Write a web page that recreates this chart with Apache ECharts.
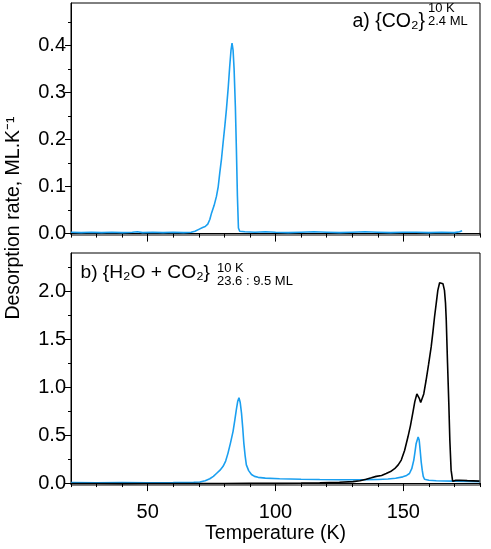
<html>
<head>
    <meta charset="utf-8">
    <script src="https://cdn.jsdelivr.net/npm/echarts@6/dist/echarts.min.js"></script>
</head>
<body>
    <style>
        html,
        body {
            width: 100%;
            height: 100%;
            margin: 0;
            background: #fff;
        }
    </style>
    <div id="main" style="width: 491px;height:549px;"></div>
    <script>
        // panel a) CO2 alone
        var tempA = [20, 24, 28, 32, 36, 40, 44, 46, 48, 52, 56, 60, 64, 67, 68.5, 70, 71.5, 72.5, 73.5, 74.3,
            75, 76, 76.9, 77.6, 78.2, 78.9, 79.5, 80.2, 80.8, 81.5, 82.1, 82.6, 83.0, 83.4, 83.8, 84.3, 84.7,
            85.1, 85.5, 86, 88, 92, 96, 100, 105, 110, 115, 120, 125, 130, 135, 140, 145, 150, 155, 160, 165,
            170, 172, 173];
        var rateA = [0.003, 0.002, 0.003, 0.002, 0.003, 0.002, 0.003, 0.004, 0.002, 0.003, 0.002, 0.003, 0.002,
            0.003, 0.005, 0.009, 0.013, 0.015, 0.02, 0.03, 0.044, 0.06, 0.079, 0.1, 0.129, 0.16, 0.193, 0.23,
            0.264, 0.31, 0.356, 0.39, 0.405, 0.39, 0.35, 0.27, 0.18, 0.08, 0.012, 0.005, 0.004, 0.003, 0.004,
            0.003, 0.002, 0.003, 0.004, 0.003, 0.002, 0.003, 0.004, 0.003, 0.002, 0.003, 0.003, 0.002, 0.003,
            0.002, 0.004, 0.006];

        // panel b) H2O + CO2, CO2 trace (blue)
        var tempB = [20, 30, 40, 50, 60, 65, 68, 70.4, 72.5, 74.3, 75.7, 76.9, 78.3, 79.5, 80.5, 81.4, 82.4,
            83.4, 84.1, 84.7, 85.2, 85.7, 86.2, 86.7, 87.2, 87.6, 88.1, 88.6, 89.5, 90.6, 91.8, 93.2, 96, 101.6,
            110, 117.3, 125, 130, 135, 140, 144, 147, 149.8, 151.3, 152.4, 153.3, 154.1, 154.6, 155.0, 155.8,
            156.2, 156.6, 157.0, 157.4, 157.8, 158.3, 160, 162.9, 166, 170, 175, 179.8];
        var rateB = [0.005, 0.004, 0.005, 0.004, 0.005, 0.006, 0.008, 0.012, 0.025, 0.045, 0.07, 0.10, 0.135,
            0.175, 0.23, 0.31, 0.42, 0.54, 0.66, 0.77, 0.85, 0.89, 0.84, 0.73, 0.57, 0.42, 0.29, 0.19, 0.13,
            0.09, 0.07, 0.06, 0.052, 0.045, 0.04, 0.037, 0.035, 0.035, 0.036, 0.038, 0.042, 0.05, 0.065, 0.08,
            0.10, 0.15, 0.24, 0.33, 0.41, 0.48, 0.45, 0.34, 0.22, 0.135, 0.07, 0.04, 0.03, 0.025, 0.022, 0.02,
            0.018, 0.015];

        // panel b) H2O trace (black)
        var tempW = [20, 30, 40, 50, 60, 70, 80, 90, 100, 110, 117.3, 125, 130.3, 133, 135.5, 137.5, 139.4,
            141.5, 143.3, 145, 146.6, 148, 149.2, 150.5, 151.8, 152.8, 153.7, 154.5, 155.3, 155.8, 156.3, 156.8,
            157.2, 158, 158.9, 159.9, 160.9, 161.6, 162.2, 162.9, 163.5, 164.2, 164.8, 165.5, 166.1, 166.5,
            166.8, 167.3, 167.8, 168.2, 168.7, 169.3, 170.5, 172, 175, 179.8];
        var rateW = [-0.005, -0.004, -0.006, -0.005, -0.004, -0.005, -0.004, -0.003, -0.003, 0.0, 0.003, 0.008,
            0.015, 0.025, 0.04, 0.055, 0.07, 0.08, 0.10, 0.12, 0.15, 0.19, 0.24, 0.34, 0.48, 0.60, 0.73, 0.85,
            0.93, 0.92, 0.88, 0.84, 0.84, 0.93, 1.07, 1.24, 1.42, 1.58, 1.73, 1.88, 2.01, 2.09, 2.11, 2.08, 2.01,
            1.88, 1.70, 1.25, 0.83, 0.45, 0.135, 0.02, 0.028, 0.03, 0.026, 0.02];

        var xMajor = [50, 100, 150];
        var yMajorA = [0, 0.1, 0.2, 0.3, 0.4];
        var yMinorA = [0.05, 0.15, 0.25, 0.35, 0.45];
        var yMajorB = [0, 0.5, 1.0, 1.5, 2.0];
        var yMinorB = [0.25, 0.75, 1.25, 1.75, 2.25];

        function pairs(xs, ys) {
            return xs.map(function (x, i) { return [x, ys[i]]; });
        }

        var FONT = "'Liberation Sans', Arial, sans-serif";
        var BLUE = '#1a9ff0';

        function xAxes(grid, labels) {
            return [{
                gridIndex: grid, type: 'value', min: 20, max: 180, interval: 10,
                position: 'bottom', offset: 0,
                axisLine: { lineStyle: { color: '#000', width: 1 } },
                axisTick: { length: 4, lineStyle: { color: '#000' } },
                axisLabel: { show: false },
                splitLine: { show: false }
            }, {
                gridIndex: grid, type: 'value', min: 20, max: 180,
                position: 'bottom', offset: 0,
                axisLine: { show: false },
                axisTick: { length: 8, customValues: xMajor, lineStyle: { color: '#000' } },
                axisLabel: {
                    show: labels, customValues: xMajor, color: '#000', fontSize: 20,
                    fontFamily: FONT, margin: 17
                },
                splitLine: { show: false },
                name: labels ? 'Temperature (K)' : '',
                nameLocation: 'middle', nameGap: 39,
                nameTextStyle: { color: '#000', fontSize: 19.5, fontFamily: FONT }
            }];
        }

        function yAxes(grid, min, max, major, minor) {
            return [{
                gridIndex: grid, type: 'value', min: min, max: max,
                position: 'left', offset: 0,
                axisLine: { show: true, lineStyle: { color: '#000', width: 1 } },
                axisTick: { show: true, length: 6, customValues: major, lineStyle: { color: '#000' } },
                axisLabel: {
                    customValues: major, color: '#000', fontSize: 20, fontFamily: FONT, margin: 5,
                    formatter: function (v) { return v.toFixed(1); }
                },
                splitLine: { show: false }
            }, {
                gridIndex: grid, type: 'value', min: min, max: max,
                position: 'left', offset: 0,
                axisLine: { show: false },
                axisTick: { show: true, length: 3, customValues: minor, lineStyle: { color: '#000' } },
                axisLabel: { show: false },
                splitLine: { show: false }
            }];
        }

        var chart = echarts.init(document.getElementById('main'));

        var option = {
            animation: false,
            backgroundColor: '#fff',
            grid: [
                { left: 71, right: 11, top: 3, height: 232, show: true, borderColor: '#000', borderWidth: 1 },
                { left: 71, right: 11, top: 253, height: 232, show: true, borderColor: '#000', borderWidth: 1 }
            ],
            xAxis: xAxes(0, false).concat(xAxes(1, true)),
            yAxis: yAxes(0, -0.003, 0.49, yMajorA, yMinorA).concat(yAxes(1, -0.02, 2.4, yMajorB, yMinorB)),
            series: [{
                type: 'line', xAxisIndex: 0, yAxisIndex: 0, data: pairs(tempA, rateA),
                showSymbol: false, lineStyle: { color: BLUE, width: 1.6 }
            }, {
                type: 'line', xAxisIndex: 2, yAxisIndex: 2, data: pairs(tempB, rateB),
                showSymbol: false, lineStyle: { color: BLUE, width: 1.6 }
            }, {
                type: 'line', xAxisIndex: 2, yAxisIndex: 2, data: pairs(tempW, rateW),
                showSymbol: false, lineStyle: { color: '#000', width: 1.6 }
            }],
            graphic: [{
                type: 'text', x: 14, y: 218, rotation: Math.PI / 2,
                style: {
                    text: 'Desorption rate, ML.K\u207B\u00B9', font: '19.5px ' + FONT, fill: '#000',
                    textAlign: 'center', textVerticalAlign: 'middle'
                }
            }, {
                type: 'text', x: 425, y: 22,
                style: { text: 'a) {CO\u2082}', font: '19.5px ' + FONT, fill: '#000', textAlign: 'right', textVerticalAlign: 'middle' }
            }, {
                type: 'text', x: 428, y: 8,
                style: { text: '10 K', font: '13px ' + FONT, fill: '#000', textAlign: 'left', textVerticalAlign: 'middle' }
            }, {
                type: 'text', x: 428, y: 21,
                style: { text: '2.4 ML', font: '13px ' + FONT, fill: '#000', textAlign: 'left', textVerticalAlign: 'middle' }
            }, {
                type: 'text', x: 210, y: 273,
                style: { text: 'b) {H\u2082O + CO\u2082}', font: '19.2px ' + FONT, fill: '#000', textAlign: 'right', textVerticalAlign: 'middle' }
            }, {
                type: 'text', x: 217, y: 268,
                style: { text: '10 K', font: '13px ' + FONT, fill: '#000', textAlign: 'left', textVerticalAlign: 'middle' }
            }, {
                type: 'text', x: 217, y: 281,
                style: { text: '23.6 : 9.5 ML', font: '13px ' + FONT, fill: '#000', textAlign: 'left', textVerticalAlign: 'middle' }
            }]
        };
        chart.setOption(option);
    </script>
</body>
</html>
